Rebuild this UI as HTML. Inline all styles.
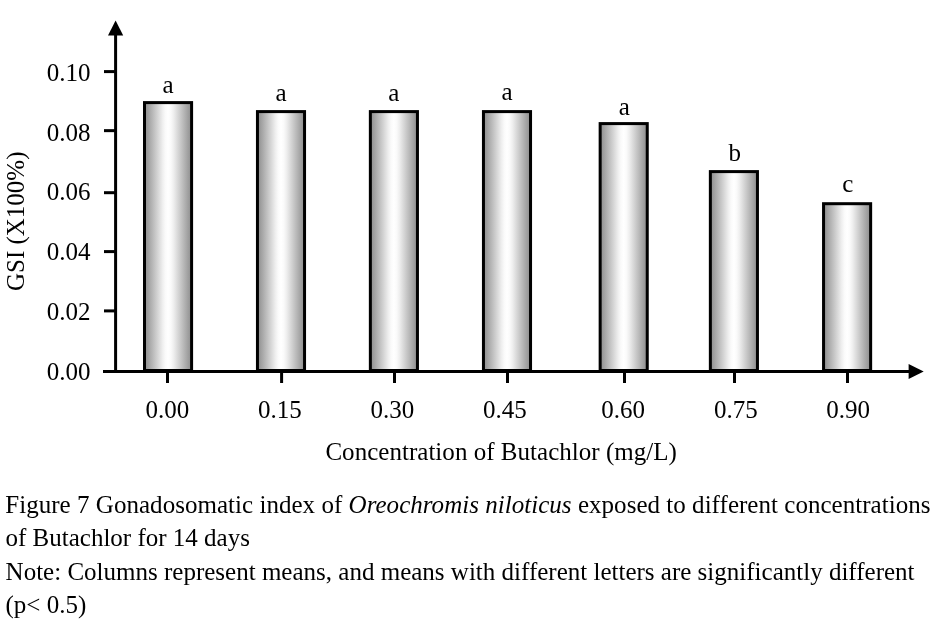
<!DOCTYPE html>
<html lang="en"><head><meta charset="utf-8"><title>Figure 7</title>
<style>
html,body{margin:0;padding:0;background:#fff;}
body{width:952px;height:625px;overflow:hidden;}
svg{display:block;will-change:transform;transform:translateZ(0);}
text{font-family:"Liberation Serif","Times New Roman",serif;font-size:25px;fill:#000;}
.i{font-style:italic;}
</style></head><body>
<svg width="952" height="625" viewBox="0 0 952 625">
<defs><linearGradient id="g" x1="0" x2="1" y1="0" y2="0">
<stop offset="0" stop-color="#8c8c8c"/><stop offset="0.38" stop-color="#eeeeee"/><stop offset="0.44" stop-color="#fafafa"/><stop offset="0.5" stop-color="#ffffff"/><stop offset="0.56" stop-color="#fafafa"/><stop offset="0.62" stop-color="#eeeeee"/><stop offset="1" stop-color="#8c8c8c"/>
</linearGradient></defs>
<rect width="952" height="625" fill="#fff"/>
<rect x="144.50" y="102.60" width="47.10" height="267.90" fill="url(#g)" stroke="#000" stroke-width="3"/>
<text x="168.05" y="93.00" text-anchor="middle">a</text>
<rect x="257.45" y="111.60" width="47.10" height="258.90" fill="url(#g)" stroke="#000" stroke-width="3"/>
<text x="281.00" y="100.90" text-anchor="middle">a</text>
<rect x="370.35" y="111.60" width="47.10" height="258.90" fill="url(#g)" stroke="#000" stroke-width="3"/>
<text x="393.90" y="100.90" text-anchor="middle">a</text>
<rect x="483.45" y="111.60" width="47.10" height="258.90" fill="url(#g)" stroke="#000" stroke-width="3"/>
<text x="507.00" y="100.10" text-anchor="middle">a</text>
<rect x="600.15" y="123.60" width="47.10" height="246.90" fill="url(#g)" stroke="#000" stroke-width="3"/>
<text x="624.20" y="115.40" text-anchor="middle">a</text>
<rect x="710.35" y="171.60" width="47.10" height="198.90" fill="url(#g)" stroke="#000" stroke-width="3"/>
<text x="734.70" y="160.60" text-anchor="middle">b</text>
<rect x="823.55" y="203.70" width="47.10" height="166.80" fill="url(#g)" stroke="#000" stroke-width="3"/>
<text x="847.80" y="192.00" text-anchor="middle">c</text>
<g stroke="#000" fill="none">
<line x1="115.60" y1="34.00" x2="115.60" y2="373.00" stroke-width="3"/>
<line x1="103.00" y1="371.50" x2="910.00" y2="371.50" stroke-width="3"/>
<line x1="104" y1="310.90" x2="115.60" y2="310.90" stroke-width="3"/>
<line x1="104" y1="251.60" x2="115.60" y2="251.60" stroke-width="3"/>
<line x1="104" y1="192.70" x2="115.60" y2="192.70" stroke-width="3"/>
<line x1="104" y1="130.65" x2="115.60" y2="130.65" stroke-width="3"/>
<line x1="104" y1="71.60" x2="115.60" y2="71.60" stroke-width="3"/>
<line x1="167.50" y1="371.5" x2="167.50" y2="383" stroke-width="3"/>
<line x1="281.60" y1="371.5" x2="281.60" y2="383" stroke-width="3"/>
<line x1="394.50" y1="371.5" x2="394.50" y2="383" stroke-width="3"/>
<line x1="507.50" y1="371.5" x2="507.50" y2="383" stroke-width="3"/>
<line x1="624.50" y1="371.5" x2="624.50" y2="383" stroke-width="3"/>
<line x1="734.50" y1="371.5" x2="734.50" y2="383" stroke-width="3"/>
<line x1="847.50" y1="371.5" x2="847.50" y2="383" stroke-width="3"/>
</g>
<polygon points="115.60,20.4 108.00,35.5 123.20,35.5" fill="#000"/>
<polygon points="923.7,371.5 908.6,364.0 908.6,379.0" fill="#000"/>
<text x="90.4" y="379.50" text-anchor="end">0.00</text>
<text x="90.4" y="319.60" text-anchor="end">0.02</text>
<text x="90.4" y="260.40" text-anchor="end">0.04</text>
<text x="90.4" y="200.45" text-anchor="end">0.06</text>
<text x="90.4" y="141.40" text-anchor="end">0.08</text>
<text x="90.4" y="81.40" text-anchor="end">0.10</text>
<text x="145.40" y="418.3">0.00</text>
<text x="258.00" y="418.3">0.15</text>
<text x="370.40" y="418.3">0.30</text>
<text x="483.10" y="418.3">0.45</text>
<text x="601.30" y="418.3">0.60</text>
<text x="714.10" y="418.3">0.75</text>
<text x="826.25" y="418.3">0.90</text>
<text x="501.2" y="460.1" text-anchor="middle" letter-spacing="0.03">Concentration of Butachlor (mg/L)</text>
<text transform="translate(24.4,221.3) rotate(-90)" text-anchor="middle">GSI (X100%)</text>
<text x="5.3" y="512.8" letter-spacing="0.03">Figure 7 Gonadosomatic index of <tspan class="i">Oreochromis niloticus</tspan> exposed to different concentrations</text>
<text x="5.5" y="546">of Butachlor for 14 days</text>
<text x="5.6" y="580.1" letter-spacing="0.005">Note: Columns represent means, and means with different letters are significantly different</text>
<text x="5.5" y="612.8">(p&lt; 0.5)</text>
</svg></body></html>
